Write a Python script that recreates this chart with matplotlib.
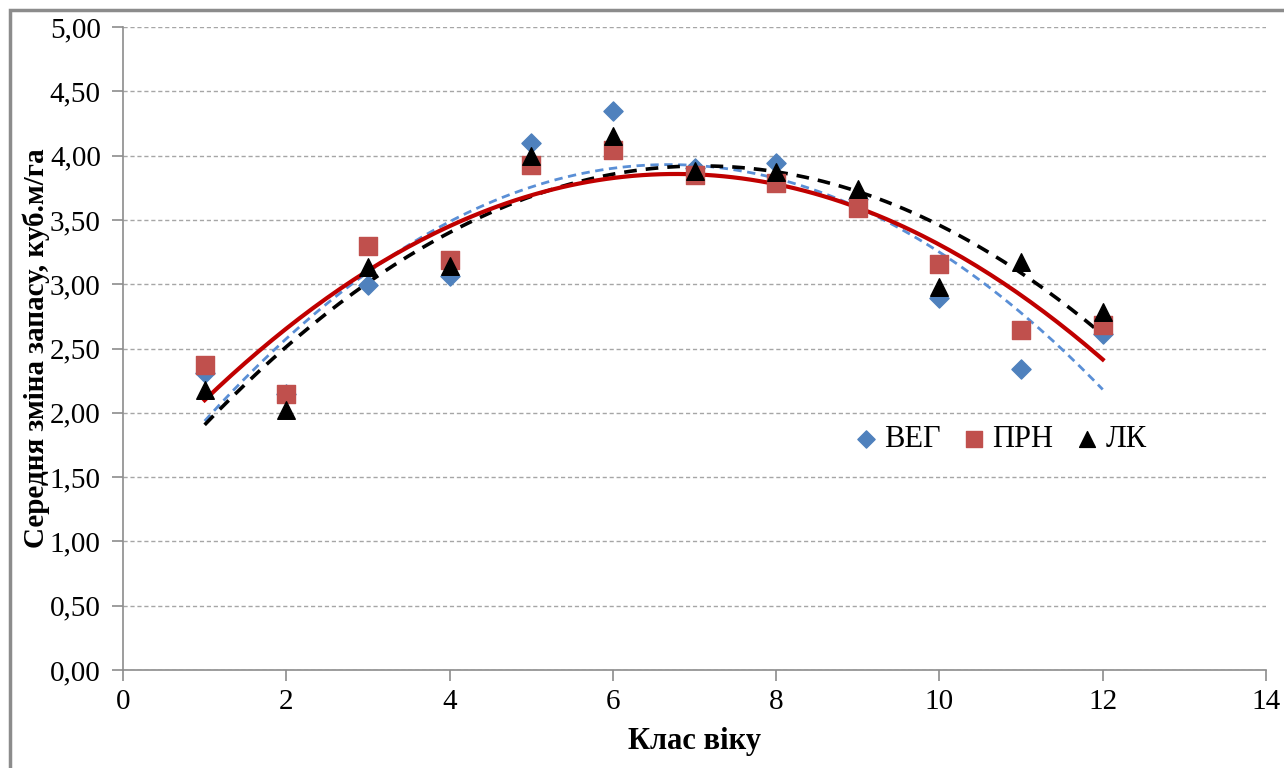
import numpy as np
import matplotlib
matplotlib.use('Agg')
import matplotlib.pyplot as plt
from matplotlib.ticker import FuncFormatter
from matplotlib.patches import Rectangle

# Average stock change by age class
age_class = [1, 2, 3, 4, 5, 6, 7, 8, 9, 10, 11, 12]
veg = [2.31, 2.15, 2.99, 3.06, 4.10, 4.35, 3.90, 3.94, 3.66, 2.89, 2.34, 2.61]
prn = [2.37, 2.15, 3.30, 3.19, 3.93, 4.04, 3.85, 3.79, 3.59, 3.16, 2.64, 2.68]
lk = [2.18, 2.02, 3.13, 3.14, 4.00, 4.15, 3.88, 3.87, 3.74, 2.98, 3.17, 2.78]

plt.rcParams['font.family'] = ['Liberation Serif', 'DejaVu Serif']

fig = plt.figure(figsize=(12.84, 7.68), dpi=100)
ax = fig.add_axes([123/1284, 1 - 670/768, (1266-123)/1284, (670-27)/768])

# page frame
fig.patches.append(Rectangle((10/1284, -0.1), 1.2, 1 - 10/768 + 0.1, transform=fig.transFigure,
                             fill=False, edgecolor='#8c8c8c', linewidth=2.5))

x = np.array(age_class)
xs = np.linspace(1, 12, 200)

# second order trend lines
def trend(vals):
    c = np.polyfit(x, vals, 2)
    return np.polyval(c, xs)

ax.plot(xs, trend(veg), color='#5a8fd6', linestyle=(0, (3, 2)), linewidth=2, zorder=2)
ax.plot(xs, trend(lk), color='black', linestyle=(0, (3.5, 2.5)), linewidth=2.6, zorder=2)
ax.plot(xs, trend(prn), color='#c00000', linewidth=3, zorder=2)

ax.scatter(x, veg, marker='D', s=95, color='#4f81bd', label='ВЕГ', zorder=3)
ax.scatter(x, prn, marker='s', s=150, color='#c0504d', label='ПРН', zorder=4)
ax.scatter(x, lk, marker='^', s=160, color='black', label='ЛК', zorder=5)

ax.set_xlim(0, 14)
ax.set_ylim(0, 5)
ax.set_xticks(range(0, 15, 2))
ax.set_yticks(np.arange(0, 5.01, 0.5))
ax.yaxis.set_major_formatter(FuncFormatter(lambda v, p: f'{v:.2f}'.replace('.', ',')))
ax.grid(axis='y', color='#a6a6a6', linestyle=(0, (3, 2)), linewidth=1)
ax.set_axisbelow(True)

for s in ['top', 'right']:
    ax.spines[s].set_visible(False)
for s in ['left', 'bottom']:
    ax.spines[s].set_color('#8c8c8c')
    ax.spines[s].set_linewidth(1.2)
ax.tick_params(axis='both', colors='#8c8c8c', labelcolor='black', labelsize=21, length=8, width=1.2)
ax.tick_params(axis='y', pad=8)
ax.tick_params(axis='x', pad=6)

ax.set_xlabel('Клас віку', fontsize=22, fontweight='bold', labelpad=8)
ax.set_ylabel('Середня зміна запасу, куб.м/га', fontsize=21, fontweight='bold', labelpad=0)

ax.legend(loc='center', bbox_to_anchor=(0.768, 0.358), ncol=3, frameon=False, fontsize=22,
          handlelength=0.7, handletextpad=0.25, columnspacing=0.75, markerscale=0.9)

fig.savefig('out.png', dpi=100)
